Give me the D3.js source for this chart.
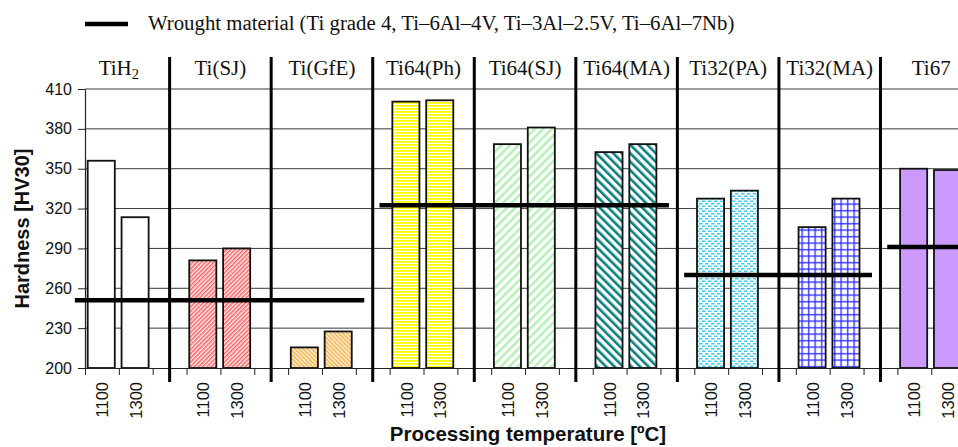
<!DOCTYPE html>
<html><head><meta charset="utf-8">
<script src="https://cdn.jsdelivr.net/npm/d3@7"></script>
<style>
html,body{margin:0;padding:0;background:#fff;}
svg{display:block;}
</style></head>
<body>
<script>
// ---- data ----
const groups = ["TiH2", "Ti(SJ)", "Ti(GfE)", "Ti64(Ph)", "Ti64(SJ)", "Ti64(MA)", "Ti32(PA)", "Ti32(MA)", "Ti67"];
const temperatures = ["1100", "1300"];
const hardness1100 = [356, 281, 215.5, 400.5, 368.5, 362.5, 327.5, 306, 350];
const hardness1300 = [313.5, 290, 227.5, 401.5, 381, 368.5, 333.5, 327.5, 349];
const wroughtValues = [251, 322.5, 270, 291];
const wroughtFirstGroup = [0, 3, 6, 8];
const wroughtLastGroup = [2, 5, 7, 8];
const yTicks = [200, 230, 260, 290, 320, 350, 380, 410];
const legendText = "Wrought material (Ti grade 4, Ti\u20136Al\u20134V, Ti\u20133Al\u20132.5V, Ti\u20136Al\u20137Nb)";
const yTitle = "Hardness [HV30]";
const xTitle = "Processing temperature [\u00baC]";

// ---- layout ----
const W = 958, H = 447;
const plotLeft = 85, slotW = 33.85, plotTop = 89, plotBottom = 368;
const nSlots = groups.length * 3;

const svg = d3.select("body").append("svg").attr("width", W).attr("height", H)
  .style("font-family", "'Liberation Sans', Arial, sans-serif");

const xLin = d3.scaleLinear().domain([0, nSlots]).range([plotLeft, plotLeft + nSlots * slotW]);
const slotKeys = [];
groups.forEach(g => { temperatures.forEach(t => slotKeys.push(g + "|" + t)); slotKeys.push(g + "|gap"); });
const xBand = d3.scaleBand().domain(slotKeys).range([plotLeft, plotLeft + nSlots * slotW]).paddingInner(0.2).paddingOuter(0.1).align(0.4);
const xSlot = d3.scaleBand().domain(slotKeys).range([plotLeft, plotLeft + nSlots * slotW]);
const y = d3.scaleLinear().domain([200, 410]).range([plotBottom, plotTop]);

// ---- patterns ----
const defs = svg.append("defs");
function stripes(id, color, period, lw, angle, bg) {
  const p = defs.append("pattern").attr("id", id).attr("patternUnits", "userSpaceOnUse")
    .attr("width", period).attr("height", period).attr("patternTransform", `rotate(${angle})`);
  p.append("rect").attr("width", period).attr("height", period).attr("fill", bg || "#fff");
  p.append("rect").attr("x", 0).attr("y", 0).attr("width", lw).attr("height", period).attr("fill", color);
}
stripes("pRed", "#ff6262", 3, 1.5, 45, "#ffecec");
stripes("pOrange", "#f8b048", 3, 1.5, -45, "#fff4e0");
stripes("pYellow", "#ffff00", 3, 1.8, 90, "#fff");
stripes("pGreen", "#b8f0b8", 6, 2.6, 45, "#fff");
stripes("pTeal", "#0a7f7f", 6, 2.6, -45, "#fff");
(function () {
  const p = defs.append("pattern").attr("id", "pCyan").attr("patternUnits", "userSpaceOnUse")
    .attr("width", 6).attr("height", 5);
  p.append("rect").attr("width", 6).attr("height", 5).attr("fill", "#fff");
  p.append("rect").attr("x", 0).attr("y", 0.5).attr("width", 3.5).attr("height", 1.5).attr("fill", "#40ccf0");
  p.append("rect").attr("x", 3).attr("y", 3).attr("width", 3).attr("height", 1.5).attr("fill", "#40ccf0");
  p.append("rect").attr("x", 0).attr("y", 3).attr("width", 0.5).attr("height", 1.5).attr("fill", "#40ccf0");
  const q = defs.append("pattern").attr("id", "pBlue").attr("patternUnits", "userSpaceOnUse")
    .attr("width", 6.5).attr("height", 6.5);
  q.append("rect").attr("width", 6.5).attr("height", 6.5).attr("fill", "#fff");
  q.append("rect").attr("x", 2).attr("y", 0).attr("width", 1.3).attr("height", 6.5).attr("fill", "#2a2aff");
  q.append("rect").attr("x", 0).attr("y", 2).attr("width", 6.5).attr("height", 1.3).attr("fill", "#2a2aff");
})();
const fills = ["#ffffff", "url(#pRed)", "url(#pOrange)", "url(#pYellow)", "url(#pGreen)", "url(#pTeal)", "url(#pCyan)", "url(#pBlue)", "#cc99ff"];

// ---- gridlines ----
svg.append("g").selectAll("line").data(yTicks.filter(v => v > 200)).join("line")
  .attr("x1", plotLeft).attr("x2", W).attr("y1", d => y(d)).attr("y2", d => y(d))
  .attr("stroke", "#3a3a3a").attr("stroke-width", 1);

// ---- bars ----
const barData = [];
groups.forEach((g, i) => {
  barData.push({ g, i, t: "1100", v: hardness1100[i] });
  barData.push({ g, i, t: "1300", v: hardness1300[i] });
});
svg.append("g").selectAll("rect").data(barData).join("rect")
  .attr("x", d => xBand(d.g + "|" + d.t))
  .attr("width", xBand.bandwidth())
  .attr("y", d => y(d.v))
  .attr("height", d => y(200) - y(d.v))
  .attr("fill", d => fills[d.i])
  .attr("stroke", "#111").attr("stroke-width", 1.8);

// ---- axes ----
const yAxis = svg.append("g").attr("transform", `translate(${plotLeft},0)`)
  .call(d3.axisLeft(y).tickValues(yTicks).tickSize(7).tickPadding(6).tickSizeOuter(0));
yAxis.select(".domain").attr("stroke", "#222").attr("stroke-width", 1.2);
yAxis.selectAll(".tick line").attr("stroke", "#222");
yAxis.selectAll("text").attr("font-size", 16).attr("fill", "#111")
  .style("font-family", "'Liberation Sans', Arial, sans-serif");

const xAxis = svg.append("g").attr("transform", `translate(0,${plotBottom})`)
  .call(d3.axisBottom(xLin).tickValues(d3.range(0, nSlots + 1)).tickSize(7).tickFormat("").tickSizeOuter(0));
xAxis.select(".domain").attr("stroke", "#222").attr("stroke-width", 1.2);
xAxis.selectAll(".tick line").attr("stroke", "#222");

// x tick labels (rotated)
svg.append("g").selectAll("text").data(barData).join("text")
  .attr("transform", d => `translate(${xSlot(d.g + "|" + d.t) + xSlot.bandwidth() / 2},382) rotate(-90)`)
  .attr("text-anchor", "end").attr("dy", "0.36em")
  .attr("font-size", 16.5).attr("fill", "#111").text(d => d.t);

// ---- separators ----
svg.append("g").selectAll("line").data(groups.slice(0, -1)).join("line")
  .attr("x1", (d) => xSlot(d + "|gap") + xSlot.bandwidth() / 2)
  .attr("x2", (d) => xSlot(d + "|gap") + xSlot.bandwidth() / 2)
  .attr("y1", 57).attr("y2", 382)
  .attr("stroke", "#000").attr("stroke-width", 3);

// ---- wrought lines ----
svg.append("g").selectAll("line").data(wroughtValues).join("line")
  .attr("x1", (d, k) => xLin(wroughtFirstGroup[k] * 3 - 0.3))
  .attr("x2", (d, k) => xLin(wroughtLastGroup[k] * 3 + 1 + 1.25))
  .attr("y1", d => y(d)).attr("y2", d => y(d))
  .attr("stroke", "#000").attr("stroke-width", 4.5);

// ---- group labels ----
const gl = svg.append("g").selectAll("text").data(groups).join("text")
  .attr("x", d => xSlot(d + "|1300"))
  .attr("y", 75).attr("text-anchor", "middle")
  .attr("font-size", 21).attr("fill", "#111")
  .style("font-family", "'Liberation Serif', 'Times New Roman', serif");
gl.each(function (d) {
  const t = d3.select(this);
  if (d === "TiH2") {
    t.append("tspan").text("TiH");
    t.append("tspan").attr("font-size", 14.5).attr("dy", 4).text("2");
  } else t.text(d);
});

// ---- legend ----
svg.append("line").attr("x1", 85).attr("x2", 128).attr("y1", 24).attr("y2", 24)
  .attr("stroke", "#000").attr("stroke-width", 4.5);
svg.append("text").attr("x", 148).attr("y", 30).attr("font-size", 20.8).attr("fill", "#111")
  .style("font-family", "'Liberation Serif', 'Times New Roman', serif").text(legendText);

// ---- titles ----
svg.append("text").attr("transform", `translate(29,${(plotTop + plotBottom) / 2}) rotate(-90)`)
  .attr("text-anchor", "middle").attr("font-size", 20).attr("font-weight", "bold").attr("fill", "#111")
  .text(yTitle);
svg.append("text").attr("x", 528).attr("y", 441).attr("text-anchor", "middle")
  .attr("font-size", 20.5).attr("font-weight", "bold").attr("fill", "#111").text(xTitle);
</script>
</body></html>
